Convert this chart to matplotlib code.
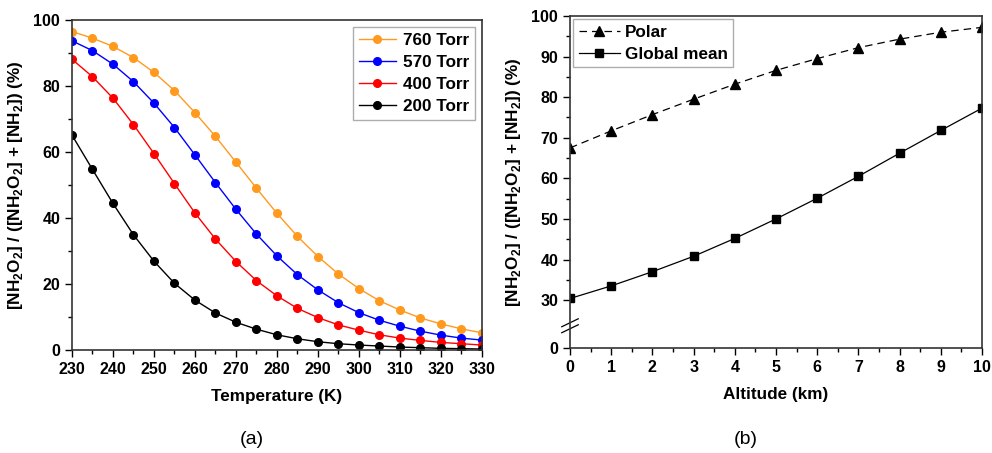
import numpy as np
import matplotlib
matplotlib.use("Agg")
import matplotlib.pyplot as plt
from matplotlib.ticker import MultipleLocator, FixedLocator

plt.rcParams["font.family"] = ["Liberation Sans", "DejaVu Sans"]
plt.rcParams["mathtext.fontset"] = "custom"
plt.rcParams["mathtext.rm"] = "Liberation Sans:bold"
plt.rcParams["mathtext.bf"] = "Liberation Sans:bold"

# panel (a): temperature dependence at several pressures
temp = np.arange(230, 331, 5)
p760 = [96.5, 94.5, 92.0, 88.6, 84.1, 78.6, 71.9, 64.7, 56.9, 49.0, 41.4,
        34.4, 28.3, 23.0, 18.6, 14.9, 12.1, 9.7, 7.9, 6.4, 5.2]
p570 = [93.7, 90.7, 86.6, 81.3, 74.8, 67.4, 59.1, 50.7, 42.6, 35.1, 28.5,
        22.8, 18.2, 14.3, 11.3, 9.0, 7.2, 5.7, 4.5, 3.6, 3.0]
p400 = [88.1, 82.8, 76.3, 68.3, 59.5, 50.4, 41.5, 33.6, 26.8, 21.0, 16.4,
        12.6, 9.8, 7.6, 6.0, 4.6, 3.6, 2.9, 2.3, 1.9, 1.5]
p200 = [65.1, 54.7, 44.4, 34.9, 26.9, 20.2, 15.1, 11.2, 8.4, 6.3, 4.6,
        3.4, 2.5, 1.9, 1.5, 1.2, 0.9, 0.7, 0.5, 0.4, 0.3]

# panel (b): altitude dependence
alt = np.arange(0, 11)
polar = [67.5, 71.7, 75.7, 79.5, 83.2, 86.6, 89.5, 92.2, 94.3, 96.0, 97.2]
glob = [30.4, 33.5, 37.0, 40.8, 45.2, 50.0, 55.1, 60.5, 66.2, 71.8, 77.3]

ylab = r"[NH$_2$O$_2$] / ([NH$_2$O$_2$] + [NH$_2$]) (%)"

fig = plt.figure(figsize=(9.92, 4.53), dpi=100)
W, H = 992, 453
ax1 = fig.add_axes([72 / W, (H - 350) / H, 410 / W, 330 / H])
ax2 = fig.add_axes([570 / W, (H - 348) / H, 412 / W, 332 / H])

lab_font = dict(fontsize=12.3, fontweight="bold")

for y, c, lab in [(p760, "#ff9a1f", "760 Torr"), (p570, "#0000ff", "570 Torr"),
                  (p400, "#ff0000", "400 Torr"), (p200, "#000000", "200 Torr")]:
    ax1.plot(temp, y, "-o", color=c, ms=5.5, lw=1, label=lab)
ax1.set_xlim(230, 330)
ax1.set_ylim(0, 100)
ax1.xaxis.set_major_locator(MultipleLocator(10))
ax1.xaxis.set_minor_locator(MultipleLocator(5))
ax1.yaxis.set_major_locator(MultipleLocator(20))
ax1.yaxis.set_minor_locator(MultipleLocator(10))
ax1.set_xlabel("Temperature (K)", labelpad=9, **lab_font)
ax1.set_ylabel(ylab, labelpad=6, **lab_font)
leg1 = ax1.legend(loc="upper right", prop=dict(size=12.3, weight="bold"),
                  fancybox=False, edgecolor="#999999", handlelength=2.2,
                  borderaxespad=0.4, labelspacing=0.42, borderpad=0.35,
                  handletextpad=0.4)
leg1.get_frame().set_linewidth(1)

# broken y scale on panel (b): 0..30 compressed
lo = 18.2
def fwd(v):
    v = np.asarray(v, dtype=float)
    return np.where(v >= 30, v, lo + v * (30 - lo) / 30)
def inv(v):
    v = np.asarray(v, dtype=float)
    return np.where(v >= 30, v, (v - lo) * 30 / (30 - lo))

ax2.set_yscale("function", functions=(fwd, inv))
ax2.plot(alt, polar, "--^", color="black", ms=6.5, lw=0.9, dashes=(6, 4), label="Polar")
ax2.plot(alt, glob, "-s", color="black", ms=5.2, lw=0.9, label="Global mean")
ax2.set_xlim(0, 10)
ax2.set_ylim(0, 100)
ax2.xaxis.set_major_locator(MultipleLocator(1))
ax2.xaxis.set_minor_locator(MultipleLocator(0.5))
ax2.yaxis.set_major_locator(FixedLocator([0, 30, 40, 50, 60, 70, 80, 90, 100]))
ax2.yaxis.set_minor_locator(FixedLocator(np.arange(35, 100, 10)))
ax2.set_xlabel("Altitude (km)", labelpad=9, **lab_font)
ax2.set_ylabel(ylab, labelpad=6, **lab_font)
leg2 = ax2.legend(loc="upper left", prop=dict(size=12.3, weight="bold"),
                  fancybox=False, edgecolor="#999999", handlelength=2.4,
                  borderaxespad=0.2, labelspacing=0.45, borderpad=0.3,
                  handletextpad=0.3)

# axis break marks (two short slanted strokes across the y spine)
for yc in (0.058, 0.076):
    ax2.plot([-0.02, 0.02], [yc - 0.012, yc + 0.012], transform=ax2.transAxes,
             color="black", lw=0.9, clip_on=False)

for ax in (ax1, ax2):
    ax.tick_params(which="both", direction="out", width=1)
    ax.tick_params(which="major", length=5, labelsize=11.5)
    ax.tick_params(which="minor", length=3)
    for t in ax.get_xticklabels() + ax.get_yticklabels():
        t.set_fontweight("bold")
    for s in ax.spines.values():
        s.set_linewidth(1.2)
        s.set_color("#333333")

fig.text(252 / W, 1 - 439 / H, "(a)", ha="center", va="center", fontsize=14)
fig.text(746 / W, 1 - 439 / H, "(b)", ha="center", va="center", fontsize=14)

fig.savefig("out.png", dpi=100)
